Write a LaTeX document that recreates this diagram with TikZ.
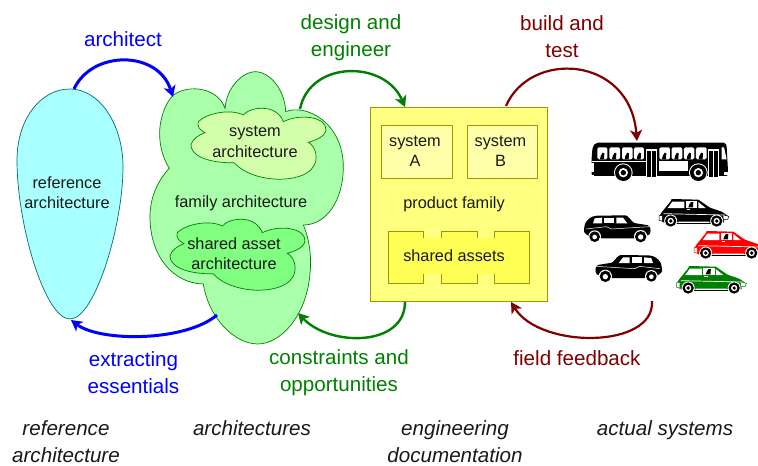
\documentclass[tikz,border=0pt]{standalone}
\usepackage{fontspec}
\setmainfont{Liberation Sans}
\usetikzlibrary{arrows.meta}
\definecolor{archblue}{HTML}{0000FF}
\definecolor{enggreen}{HTML}{008000}
\definecolor{testred}{HTML}{800000}
\definecolor{refcyan}{HTML}{AAFFFF}
\definecolor{famgreen}{HTML}{AAFFAA}
\definecolor{sysgreen}{HTML}{D4FFAA}
\definecolor{assetgreen}{HTML}{80FF80}
\definecolor{boxyellow}{HTML}{FFFF80}
\definecolor{sysyellow}{HTML}{FFFFAA}
\definecolor{assetyellow}{HTML}{FFFF55}
\definecolor{olive}{HTML}{999900}
\tikzset{
  body/.style={inner sep=0pt,align=center,text=black!90,font=\fontsize{16.3}{20.5}\selectfont},
  label/.style={inner sep=0pt,align=center,font=\fontsize{20.6}{27}\selectfont},
  caption/.style={label,text=black!90,font=\fontsize{20.6}{26.5}\selectfont\itshape},
  flowa/.style={archblue,line width=3pt,-{Stealth[length=11pt,width=12pt,inset=3pt]}},
  flowb/.style={enggreen,line width=2.4pt,-{Stealth[length=11pt,width=12pt,inset=3pt]}},
  flowc/.style={testred,line width=2.2pt,-{Stealth[length=11pt,width=12pt,inset=3pt]}},
  zone/.style={line width=0.7pt},
  yellowbox/.style={draw=olive,line width=0.9pt}
}
\newcommand{\cloudshape}{
  (175,185) .. controls (200,160) and (270,145) .. (310,165)
  .. controls (330,140) and (410,130) .. (430,185)
  .. controls (480,160) and (560,170) .. (558,210)
  .. controls (555,235) and (510,245) .. (505,247)
  .. controls (530,260) and (535,300) .. (520,320)
  .. controls (490,372) and (340,372) .. (282,308)
  .. controls (240,310) and (155,300) .. (153,255)
  .. controls (155,240) and (175,225) .. (195,218)
  .. controls (180,210) and (170,200) .. (175,185) -- cycle}
\newcommand{\carwheel}[2]{%
  \fill[#2] ({#1-23},82) arc[start angle=180,end angle=360,radius=23] -- cycle;
  \fill[white] (#1,78) circle[radius=19.5];
  \fill[black] (#1,78) circle[radius=17];
  \fill[white] (#1,78) circle[radius=9.5];
  \fill[black] (#1,78) circle[radius=5.5];}
\newcommand{\carat}[3]{%
\begin{scope}[shift={(#1,#2)},x=0.3333pt,y=-0.3333pt]
  \fill[#3] (14,62) -- (20,52) -- (46,20) -- (50,12) -- (130,14) -- (165,38) -- (200,50) -- (218,62) -- (205,72) -- (205,80) -- (20,80) -- cycle;
  \draw[#3,fill=white,line width=0.5pt] (12,62) -- (22,62) -- (22,78) -- (12,76) -- cycle;
  \draw[#3,fill=white,line width=0.5pt] (204,60) -- (222,64) -- (218,73) -- (204,73) -- cycle;
  \fill[white] (52,20) -- (88,20) -- (88,39) -- (38,39) -- cycle;
  \fill[white] (92,18) -- (126,18) -- (126,39) -- (92,39) -- cycle;
  \fill[white] (130,21) -- (152,39) -- (130,39) -- cycle;
  \fill[black] (100,37) -- (103,28) -- (108,21) -- (115,21) -- (114,37) -- cycle;
  \fill[white] (95,42) rectangle (106,46);
  \draw[white,line width=0.7pt] (25,56) -- (210,60);
  \fill[black] (55,84) rectangle (175,88);
  \carwheel{47}{#3}
  \carwheel{185}{#3}
\end{scope}}
\newcommand{\taxiat}[3]{%
\begin{scope}[shift={(#1,#2)},x=#3,y=-0.3333pt]
  \fill[black,rounded corners=1pt] (18,72) -- (21,56) .. controls (30,42) and (40,33) .. (60,32) -- (140,31) .. controls (150,32) and (158,45) .. (168,54) -- (212,61) -- (218,72) -- (216,88) -- (205,92) -- (170,100) -- (70,100) -- (30,92) -- (18,82) -- cycle;
  \fill[white] (45,55) -- (50,40) -- (72,38) -- (72,55) -- cycle;
  \fill[white] (78,38) rectangle (108,55);
  \fill[white] (115,38) -- (135,38) -- (148,55) -- (115,55) -- cycle;
  \draw[white,line width=0.5pt] (24,72) -- (85,65) -- (100,72) -- (214,65);
  \fill[white] (50,95) circle[radius=19];
  \fill[black] (50,95) circle[radius=16];
  \fill[white] (50,96) circle[radius=7];
  \fill[white] (188,95) circle[radius=20];
  \fill[black] (188,95) circle[radius=17];
  \fill[white] (188,96) circle[radius=8];
\end{scope}}
\newcommand{\buswindow}[2]{%
  \fill[white,rounded corners=1.5pt] (#1,82) rectangle (#2,118);
  \fill[black] ({#1+8},118) -- ({#1+10},108) -- ({#1+16},98) -- ({#1+21},100) -- ({#1+20},118) -- cycle;}
\newcommand{\buswheel}[1]{%
  \fill[white] (#1,158) circle[radius=28];
  \fill[black] (#1,158) circle[radius=25];
  \fill[white] (#1,158) circle[radius=14];
  \fill[black] (#1,158) circle[radius=8];}
\newcommand{\busdoor}[1]{%
  \fill[white] (#1,88) rectangle ({#1+33},172);
  \fill[black] ({#1+3},92) rectangle ({#1+15},170);
  \fill[black] ({#1+18},92) rectangle ({#1+30},170);}
\begin{document}
\begin{tikzpicture}[x=1pt,y=-1pt]
\useasboundingbox (0,0) rectangle (758,466);
\clip (0,0) rectangle (758,466);

% reference architecture
\draw[zone,draw=teal!85!black,fill=refcyan] (70,89) .. controls (100,89) and (123,125) .. (123,167)
  .. controls (123,225) and (95,319) .. (70,319) .. controls (45,319) and (17,225) .. (17,160)
  .. controls (17,120) and (40,89) .. (70,89) -- cycle;
\coordinate (refTop) at (74,89);
\coordinate (refBottom) at (71,320);
\node[body] (reftext) at (67,192.5) {reference\\architecture};

% family architecture
\begin{scope}[shift={(140,60)},x=0.3333pt,y=-0.3333pt]
  \draw[zone,draw=enggreen,fill=famgreen] (100,105) .. controls (150,70) and (235,85) .. (255,145)
   .. controls (260,80) and (310,35) .. (345,35)
   .. controls (390,35) and (435,90) .. (437,155)
   .. controls (500,130) and (610,190) .. (610,320)
   .. controls (610,420) and (560,495) .. (490,495)
   .. controls (510,540) and (515,600) .. (510,640)
   .. controls (500,770) and (420,852) .. (354,852)
   .. controls (280,852) and (205,770) .. (190,672)
   .. controls (100,670) and (30,590) .. (30,470)
   .. controls (30,410) and (55,360) .. (88,325)
   .. controls (65,290) and (55,240) .. (60,200)
   .. controls (65,160) and (80,125) .. (100,105) -- cycle;
  \draw[zone,draw=enggreen,fill=sysgreen] \cloudshape;
  \begin{scope}[xshift=-21pt,yshift=-111pt]
    \draw[zone,draw=enggreen,fill=assetgreen] \cloudshape;
  \end{scope}
\end{scope}
\coordinate (famTopLeft) at (173,97);
\coordinate (famBottomLeft) at (217,315);
\coordinate (famTopRight) at (300,109);
\coordinate (famBottomRight) at (298,313);
\node[body] (systext) at (255,142) {system\\architecture};
\node[body] (famtext) at (241,203.5) {family architecture};
\node[body] (sharedtext) at (234,253.5) {shared asset\\architecture};

% product family
\draw[yellowbox,fill=boxyellow] (370,107) rectangle (547,301);
\draw[yellowbox,fill=sysyellow] (381,125) rectangle (452,178);
\draw[yellowbox,fill=sysyellow] (467,125) rectangle (537,178);
\fill[assetyellow] (388,238) rectangle (529,274);
\fill[assetyellow] (388,231) rectangle (423,283);
\fill[assetyellow] (441,231) rectangle (477,283);
\fill[assetyellow] (494,231) rectangle (529,283);
\draw[yellowbox] (423,238) -- (423,231) -- (388,231) -- (388,283) -- (423,283) -- (423,274);
\draw[yellowbox] (441,238) -- (441,231) -- (477,231) -- (477,238);
\draw[yellowbox] (441,274) -- (441,283) -- (477,283) -- (477,274);
\draw[yellowbox] (494,238) -- (494,231) -- (529,231) -- (529,283) -- (494,283) -- (494,274);
\coordinate (boxTopLeft) at (405,107);
\coordinate (boxTopRight) at (506,106);
\coordinate (boxBottomLeft) at (405,302);
\coordinate (boxBottomRight) at (511,302);
\node[body] (sysa) at (415,151) {system\\A};
\node[body] (sysb) at (500.5,151) {system\\B};
\node[body] (pftext) at (454,204) {product family};
\node[body] (satext) at (454,256) {shared assets};

% bus
\begin{scope}[shift={(570,120)},x=0.3333pt,y=-0.3333pt]
  \fill[black,rounded corners=2pt] (65,110) -- (68,80) -- (78,68) -- (468,68) -- (470,80) -- (474,152) -- (474,168) -- (65,168) -- cycle;
  \fill[white] (64,130) rectangle (71,155);
  \fill[white] (60,166) rectangle (72,170);
  \fill[white] (462,155) rectangle (478,166);
  \fill[white] (66,122) rectangle (228,125);
  \buswindow{82}{112}\buswindow{118}{150}\buswindow{156}{188}\buswindow{192}{222}
  \buswindow{268}{300}\buswindow{305}{337}\buswindow{342}{373}\buswindow{378}{410}
  \fill[white] (455,82) -- (462,82) -- (470,118) -- (455,118) -- cycle;
  \fill[white] (267,122) rectangle (355,152);
  \busdoor{229}\busdoor{415}
  \buswheel{160}\buswheel{385}
\end{scope}
\coordinate (busTop) at (637,141);

% cars and taxis
\carat{655}{195}{black}
\carat{690}{227}{red}
\carat{672.5}{262}{enggreen}
\taxiat{578}{205}{0.3333pt}
\taxiat{668}{244.7}{-0.3333pt}
\coordinate (carsBottom) at (652,301);

% connectors
\draw[flowa] (refTop) .. controls (92,50) and (158,50) .. (famTopLeft);
\draw[flowa] (famBottomLeft) .. controls (185,342) and (100,342) .. (refBottom);
\draw[flowb] (famTopRight) .. controls (310,60) and (385,60) .. (boxTopLeft);
\draw[flowb] (boxBottomLeft) .. controls (405,347) and (330,347) .. (famBottomRight);
\draw[flowc] (boxTopRight) .. controls (530,50) and (630,55) .. (busTop);
\draw[flowc] (carsBottom) .. controls (655,349) and (540,349) .. (boxBottomRight);

% labels
\node[label,text=archblue] (larch) at (123,39) {architect};
\node[label,text=archblue] (lext) at (133.5,372.5) {extracting\\essentials};
\node[label,text=enggreen] (ldes) at (351,38) {design and\\engineer};
\node[label,text=enggreen] (lcon) at (339,373) {constraints and\\opportunities};
\node[label,text=testred] (lbuild) at (562,36.5) {build and\\test};
\node[label,text=testred] (lfield) at (577,358) {field feedback};
\node[caption] (c1) at (66,441.5) {reference\\architecture};
\node[caption] (c2) at (252,428) {architectures};
\node[caption] (c3) at (455,441.5) {engineering\\documentation};
\node[caption] (c4) at (665,430) {actual systems};
\end{tikzpicture}
\end{document}
